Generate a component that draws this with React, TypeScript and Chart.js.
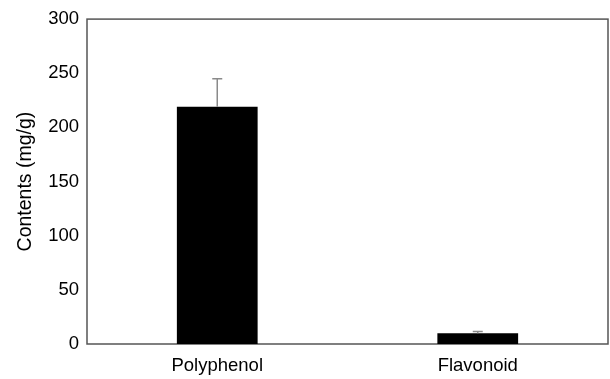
import { useEffect, useRef } from "react";
import { Chart, registerables } from "chart.js";

Chart.register(...registerables);

const categories = ["Polyphenol", "Flavonoid"];
const values = [219, 10];
const errors = [26, 1.5];
const yMin = 0;
const yMax = 300;
const yStep = 50;
const yTitle = "Contents (mg/g)";

const FONT = "'Liberation Sans', Arial, sans-serif";

export default function App() {
  const ref = useRef<HTMLCanvasElement>(null);

  useEffect(() => {
    if (!ref.current) return;

    const framePlugin = {
      id: "frame",
      beforeDatasetsDraw(chart: any) {
        const { left, top, right, bottom } = chart.chartArea;
        const ctx = chart.ctx;
        ctx.save();
        ctx.strokeStyle = "#555555";
        ctx.lineWidth = 1.5;
        ctx.strokeRect(left, top, right - left, bottom - top);
        ctx.restore();
      },
    };

    const errorPlugin = {
      id: "errorBars",
      afterDatasetsDraw(chart: any) {
        const ctx = chart.ctx;
        const meta = chart.getDatasetMeta(0);
        const y = chart.scales.y;
        ctx.save();
        ctx.strokeStyle = "#8a8a8a";
        ctx.lineWidth = 1.5;
        meta.data.forEach((bar: any, i: number) => {
          const x = bar.x;
          const base = y.getPixelForValue(values[i]);
          const top = y.getPixelForValue(values[i] + errors[i]);
          ctx.beginPath();
          ctx.moveTo(x, base);
          ctx.lineTo(x, top);
          ctx.moveTo(x - 5, top);
          ctx.lineTo(x + 5, top);
          ctx.stroke();
        });
        ctx.restore();
      },
    };

    const chart = new Chart(ref.current, {
      type: "bar",
      data: {
        labels: categories,
        datasets: [
          {
            data: values,
            backgroundColor: "#000000",
            borderWidth: 0,
            categoryPercentage: 1,
            barPercentage: 0.31,
          },
        ],
      },
      options: {
        responsive: false,
        animation: false,
        layout: { padding: { top: 15, right: 2, left: 0, bottom: 0 } },
        plugins: {
          legend: { display: false },
          tooltip: { enabled: false },
        },
        scales: {
          x: {
            grid: { display: false, drawTicks: false },
            border: { display: false },
            ticks: {
              color: "#000000",
              font: { family: FONT, size: 18.5 },
              padding: 11,
            },
            afterFit(scale: any) {
              scale.height = 35;
            },
          },
          y: {
            min: yMin,
            max: yMax,
            grid: { display: false, drawTicks: false },
            border: { display: false },
            ticks: {
              stepSize: yStep,
              color: "#000000",
              font: { family: FONT, size: 18.5 },
              padding: 8,
            },
            title: {
              display: true,
              text: yTitle,
              color: "#000000",
              font: { family: FONT, size: 19.5 },
              padding: { top: 14, bottom: 0 },
            },
            afterFit(scale: any) {
              scale.width = 87;
            },
          },
        },
      },
      plugins: [framePlugin, errorPlugin],
    });

    return () => chart.destroy();
  }, []);

  return (
    <canvas
      ref={ref}
      width={610}
      height={379}
      style={{ position: "absolute", left: 0, top: 0, display: "block" }}
    />
  );
}
